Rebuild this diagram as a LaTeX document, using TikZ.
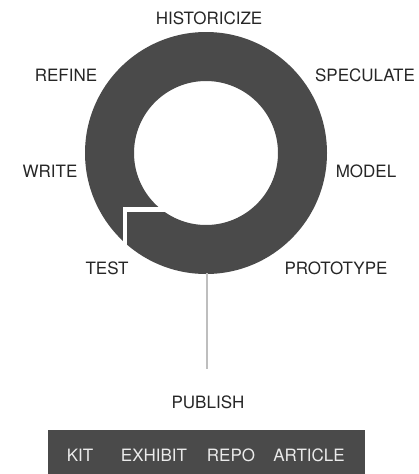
\documentclass[tikz,border=0pt]{standalone}
\usepackage{fontspec}
\setmainfont{TeX Gyre Heros}
\usepackage{xcolor}
\usetikzlibrary{positioning}
\definecolor{ringgray}{RGB}{74, 74, 74}
\definecolor{stemgray}{RGB}{190, 190, 190}

\tikzset{
  stage/.style={font=\fontsize{17}{20}\selectfont, text=black!85, inner sep=0pt},
  outlet/.style={font=\fontsize{17}{20}\selectfont, text=white!92!black, inner sep=0pt},
}

\begin{document}
\begin{tikzpicture}[x=1pt, y=-1pt]
  \def\R{121}
  \def\r{72}
  \useasboundingbox (0,0) rectangle (418,474);

  \coordinate (c) at (206,153);

%ring:
  \fill[ringgray, even odd rule] (c) circle (\R) (c) circle (\r);
  % cut between TEST and WRITE
  \draw[white, line width=4.5pt] (125,252) -- (125,209.5) -- (172,209.5);
%%%%%%

  \node[stage] (historicize) at (209,18)  {HISTORICIZE};
  \node[stage] (speculate)   at (365,75)  {SPECULATE};
  \node[stage] (model)       at (366,171) {MODEL};
  \node[stage] (prototype)   at (336,268) {PROTOTYPE};
  \node[stage] (test)        at (107,268) {TEST};
  \node[stage] (write)       at (50,171)  {WRITE};
  \node[stage] (refine)      at (66,75)   {REFINE};

  \node[stage] (publish) at (208,402) {PUBLISH};

  \coordinate (stemtop) at (207,273);
  \coordinate (stemend) at (207,369);
  \draw[stemgray, line width=1.3pt] (stemtop) -- (stemend);

%outlets:
  \fill[ringgray] (48,430) rectangle (365,474);
  \node[outlet] (kit)     at (80,455)  {KIT};
  \node[outlet] (exhibit) at (154,455) {EXHIBIT};
  \node[outlet] (repo)    at (231,455) {REPO};
  \node[outlet] (article) at (309,455) {ARTICLE};
\end{tikzpicture}
\end{document}
